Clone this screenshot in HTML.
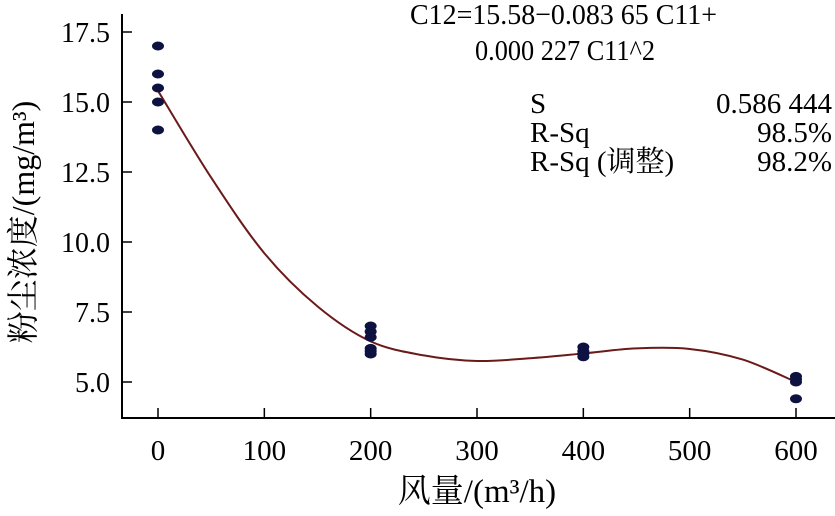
<!DOCTYPE html>
<html><head><meta charset="utf-8"><style>
body{margin:0;background:#fff}
svg text{font-family:"Liberation Serif","Noto Serif CJK SC",serif;fill:#000}
</style></head><body>
<svg width="835" height="511" viewBox="0 0 835 511" xmlns="http://www.w3.org/2000/svg">
<g id="axes"></g><g id="marks"></g>
<text x="410" y="24" font-size="29" textLength="307" lengthAdjust="spacingAndGlyphs">C12=15.58−0.083 65 C11+</text>
<text x="475" y="60" font-size="29" textLength="180" lengthAdjust="spacingAndGlyphs">0.000 227 C11^2</text>
<g font-size="29">
<text x="530" y="113">S</text><text x="832" y="113" text-anchor="end">0.586 444</text>
<text x="530" y="142">R-Sq</text><text x="832" y="142" text-anchor="end">98.5%</text>
<text x="530" y="171">R-Sq (调整)</text><text x="832" y="171" text-anchor="end">98.2%</text>
</g>
<text x="477" y="502" font-size="33" text-anchor="middle">风量/(m³/h)</text>
<text transform="translate(34,222) rotate(-90)" font-size="32" text-anchor="middle">粉尘浓度/(mg/m³)</text>
</svg>
<script>
const xTicks=[0,100,200,300,400,500,600];
const yTicks=[5.0,7.5,10.0,12.5,15.0,17.5];
const yTickLabels=["5.0","7.5","10.0","12.5","15.0","17.5"];
const pointX=[0,0,0,0,0,200,200,200,200,200,200,400,400,400,400,600,600,600,600];
const pointY=[17.0,16.0,15.5,15.0,14.0,7.0,6.8,6.6,6.2,6.1,6.0,6.25,6.1,6.0,5.9,5.2,5.1,5.0,4.4];
const fitX=[0,50,100,150,200,250,300,350,400,450,500,550,600];
const fitY=[15.4,12.3,9.6,7.7,6.45,5.95,5.75,5.85,6.02,6.2,6.18,5.8,5.0];
const NS="http://www.w3.org/2000/svg";
const sx=v=>158+v*(796-158)/600;
const sy=v=>382-(v-5)*28;
function mk(t,a,p){const e=document.createElementNS(NS,t);for(const k in a)e.setAttribute(k,a[k]);p.appendChild(e);return e;}
const axes=document.getElementById('axes'),marks=document.getElementById('marks');
let ax=mk('path',{d:'M122,14 V418 H835',fill:'none',stroke:'#000','stroke-width':2},axes);


xTicks.forEach(v=>{
 const l=mk('line',{x1:sx(v),x2:sx(v),y1:418,y2:408,stroke:'#000','stroke-width':1.5},axes);
 
 
 const t=mk('text',{x:sx(v),y:460,'font-size':29,'text-anchor':'middle'},axes);t.textContent=v;
 
 
});
yTicks.forEach((v,i)=>{
 const l=mk('line',{x1:122,x2:132,y1:sy(v),y2:sy(v),stroke:'#000','stroke-width':1.5},axes);
 
 
 const t=mk('text',{x:110,y:sy(v)+10,'font-size':28,'text-anchor':'end'},axes);t.textContent=yTickLabels[i];
 
 
});
const P=fitX.map((x,i)=>[sx(x),sy(fitY[i])]);
let d='M'+P[0][0]+','+P[0][1];
for(let i=0;i<P.length-1;i++){const p0=P[Math.max(0,i-1)],p1=P[i],p2=P[i+1],p3=P[Math.min(P.length-1,i+2)];
 d+=` C${p1[0]+(p2[0]-p0[0])/6},${p1[1]+(p2[1]-p0[1])/6} ${p2[0]-(p3[0]-p1[0])/6},${p2[1]-(p3[1]-p1[1])/6} ${p2[0]},${p2[1]}`;}
const c=mk('path',{d:d,fill:'none',stroke:'#6b1a1a','stroke-width':2},marks);


pointX.forEach((x,i)=>{
 const e=mk('ellipse',{cx:sx(x),cy:sy(pointY[i]),rx:6,ry:4.5,fill:'#0d1240'},marks);
 
 
});
</script>
</body></html>
